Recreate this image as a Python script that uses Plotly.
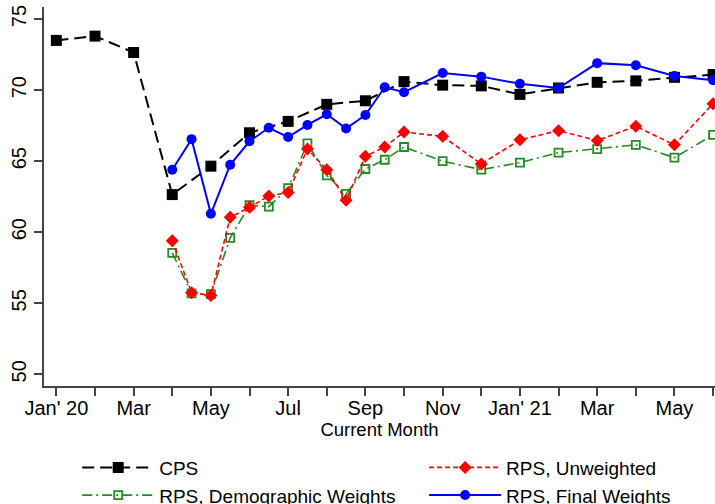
import plotly.graph_objects as go

# months since Jan 2020 (RPS is semi-monthly Apr-Oct 2020, then monthly)
cps_x = list(range(0, 18))
cps = [73.5, 73.8, 72.65, 62.65, 64.65, 67.0, 67.8, 69.0, 69.25, 70.6, 70.35, 70.3,
       69.7, 70.15, 70.55, 70.65, 70.9, 71.1]

rps_x = [3, 3.5, 4, 4.5, 5, 5.5, 6, 6.5, 7, 7.5, 8, 8.5, 9, 10, 11, 12, 13, 14, 15, 16, 17]
rps_unweighted = [59.4, 55.75, 55.55, 61.05, 61.75, 62.55, 62.8, 65.85, 64.4, 62.25, 65.35,
                  66.0, 67.05, 66.75, 64.8, 66.5, 67.15, 66.45, 67.45, 66.15, 69.05]
rps_demographic = [58.55, 55.7, 55.65, 59.6, 61.9, 61.8, 63.1, 66.25, 64.0, 62.7, 64.45,
                   65.1, 66.0, 65.0, 64.4, 64.9, 65.6, 65.85, 66.15, 65.25, 66.85]
rps_final = [64.4, 66.55, 61.3, 64.75, 66.4, 67.35, 66.7, 67.55, 68.3, 67.3, 68.25,
             70.2, 69.85, 71.2, 70.95, 70.45, 70.15, 71.9, 71.75, 71.0, 70.7]

tick_vals = list(range(0, 18))
tick_text = ["Jan' 20", "", "Mar", "", "May", "", "Jul", "", "Sep", "", "Nov", "",
             "Jan' 21", "", "Mar", "", "May", ""]

FONT = "Liberation Sans, Arial, sans-serif"
GREEN = "#228B22"

fig = go.Figure()
fig.add_trace(go.Scatter(
    x=cps_x, y=cps, name="CPS", mode="lines+markers", legend="legend",
    line=dict(color="black", width=2, dash="12px,6px"),
    marker=dict(symbol="square", size=11, color="black")))
fig.add_trace(go.Scatter(
    x=rps_x, y=rps_demographic, name="RPS, Demographic Weights", mode="lines+markers",
    legend="legend",
    line=dict(color=GREEN, width=1.6, dash="10px,4px,2px,4px"),
    marker=dict(symbol="square-open", size=8, color=GREEN, line=dict(width=1.8, color=GREEN))))
fig.add_trace(go.Scatter(
    x=rps_x, y=rps_unweighted, name="RPS, Unweighted", mode="lines+markers", legend="legend2",
    line=dict(color="red", width=1.6, dash="5px,3px"),
    marker=dict(symbol="diamond", size=10, color="red")))
fig.add_trace(go.Scatter(
    x=rps_x, y=rps_final, name="RPS, Final Weights", mode="lines+markers", legend="legend2",
    line=dict(color="blue", width=2),
    marker=dict(symbol="circle", size=10, color="blue")))

axis_col = "#444444"
legend_common = dict(orientation="v", font=dict(family=FONT, size=19, color="black"),
                     bgcolor="rgba(0,0,0,0)", tracegroupgap=0, itemwidth=72,
                     yanchor="top", xanchor="left", y=-0.165)

fig.update_layout(
    width=715, height=504,
    margin=dict(l=44, r=0, t=7, b=118, autoexpand=False),
    plot_bgcolor="white", paper_bgcolor="white",
    font=dict(family=FONT, color="black"),
    showlegend=True,
    legend=dict(x=0.0495, **legend_common),
    legend2=dict(x=0.5665, **legend_common),
    xaxis=dict(range=[-0.32, 17.05], tickmode="array", tickvals=tick_vals, ticktext=tick_text,
               showline=True, linecolor=axis_col, linewidth=2, ticks="outside", ticklen=8,
               tickcolor=axis_col, tickwidth=1.5, showgrid=False, zeroline=False,
               ticklabelstandoff=-5,
               tickfont=dict(size=20, family=FONT, color="black"),
               title=dict(text="Current Month", font=dict(size=18.5, family=FONT), standoff=2)),
    yaxis=dict(range=[49.18, 75.85], tickvals=[50, 55, 60, 65, 70, 75], tickangle=-90,
               showline=True, linecolor=axis_col, linewidth=2, ticks="outside", ticklen=8,
               tickcolor=axis_col, tickwidth=1.5, showgrid=False, zeroline=False,
               ticklabeloverflow="allow",
               tickfont=dict(size=20, family=FONT, color="black")),
)

# drop the browser's default 8px body margin so the figure fills the window
fig.write_html("out.html", config={"displayModeBar": False},
               post_script="document.body.style.margin='0';document.body.style.overflow='hidden';")
